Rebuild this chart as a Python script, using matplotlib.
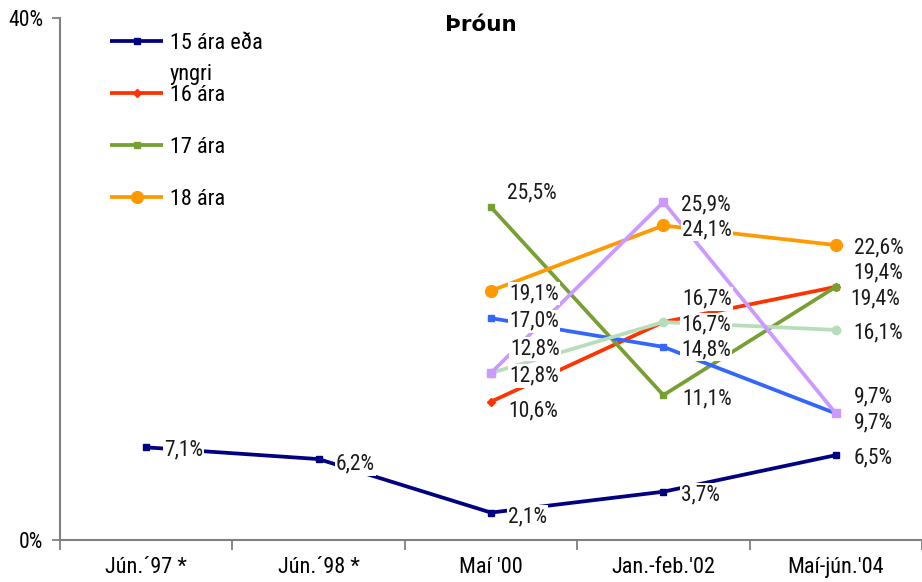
import numpy as np
import matplotlib
matplotlib.use("Agg")
import matplotlib.pyplot as plt

# categories and series values (%)
categories = ["Jún.´97 *", "Jún.´98 *", "Maí '00", "Jan.-feb.'02", "Maí-jún.'04"]
nan = np.nan
s15 = [7.1, 6.2, 2.1, 3.7, 6.5]
s16 = [nan, nan, 10.6, 16.7, 19.4]
s17 = [nan, nan, 25.5, 11.1, 19.4]
s18 = [nan, nan, 19.1, 24.1, 22.6]
s_blue = [nan, nan, 17.0, 14.8, 9.7]
s_lgreen = [nan, nan, 12.8, 16.7, 16.1]
s_lav = [nan, nan, 12.8, 25.9, 9.7]
legend_labels = ["15 ára eða\nyngri", "16 ára", "17 ára", "18 ára"]

narrow = ["Roboto Condensed", "DejaVu Sans"]
plt.rcParams["font.family"] = narrow

fig = plt.figure(figsize=(9.22, 5.82), dpi=100)
ax = fig.add_axes([60 / 922, 1 - 540 / 582, 1 - 60 / 922, (540 - 18) / 582])

x = np.arange(len(categories))

# (values, colour, marker, markersize)
series = [
    (s15, "#000080", "s", 5),
    (s16, "#FF3300", "D", 4),
    (s17, "#77A033", "s", 5),
    (s18, "#FF9900", "o", 8.5),
    (s_blue, "#3366FF", "s", 5),
    (s_lgreen, "#B8DDBB", "o", 6),
    (s_lav, "#CC99FF", "s", 6),
]

handles = []
for vals, col, mk, ms in series:
    (ln,) = ax.plot(x, vals, color=col, lw=2.7, marker=mk, ms=ms,
                    mfc=col, mec=col, solid_capstyle="butt", zorder=2)
    handles.append(ln)

# label offsets in pixels (dx, dy), default right and a bit down
default_off = (18, -3)
offsets = {
    (0, 1): (17, -5), (0, 2): (17, -4),
    (1, 2): (17, -9), (1, 3): (19, 23), (1, 4): (15, -12),
    (2, 2): (16, 14), (2, 4): (18, 14), (2, 3): (19, -4),
    (3, 3): (19, -4),
    (4, 4): (18, -10),
    (5, 2): (19, 24),
    (6, 4): (18, 16),
}

for si, (vals, col, mk, ms) in enumerate(series):
    for i, v in enumerate(vals):
        if np.isnan(v):
            continue
        dx, dy = offsets.get((si, i), default_off)
        ax.annotate(f"{v:.1f}%".replace(".", ","), (x[i], v),
                    xytext=(dx, dy), textcoords="offset pixels",
                    ha="left", va="center", fontsize=15.5, color="#1a1a1a",
                    bbox=dict(boxstyle="square,pad=0.05", fc="white", ec="none"),
                    zorder=5)

ax.set_xlim(-0.5, 4.5)
ax.set_ylim(0, 40)
ax.set_yticks([0, 40])
ax.set_yticklabels(["0%", "40%"], fontsize=15.5)
ax.set_xticks(x)
ax.set_xticklabels(categories, fontsize=16)
ax.set_xticks(np.arange(-0.5, 5, 1), minor=True)
ax.tick_params(axis="x", which="major", length=0, pad=12)
ax.tick_params(axis="x", which="minor", length=7, width=1.3, color="#808080")
ax.tick_params(axis="y", length=6, width=1.3, color="#808080", pad=6)

for s in ["top", "right"]:
    ax.spines[s].set_visible(False)
for s in ["left", "bottom"]:
    ax.spines[s].set_color("#808080")
    ax.spines[s].set_linewidth(1.5)

fig.text(481 / 922, 1 - 25 / 582, "Þróun", ha="center", va="center",
         fontsize=15.5, fontweight="bold", family="DejaVu Sans")

# every entry two lines tall, so single-line ones get an empty second line
leg_text = [t if "\n" in t else t + "\n " for t in legend_labels]
leg = ax.legend(handles[:4], leg_text, loc="upper left",
                bbox_to_anchor=(50 / 862, 1 - 15 / 522), frameon=False,
                fontsize=16, handlelength=2.4, handletextpad=0.3,
                labelspacing=0.0, borderaxespad=0, borderpad=0)
for t in leg.get_texts():
    t.set_linespacing(1.62)
# put the handle level with the first line of the label
for col in leg._legend_handle_box.get_children():
    for row in col.get_children():
        row.align = "top"

fig.savefig("out.png", dpi=100)
